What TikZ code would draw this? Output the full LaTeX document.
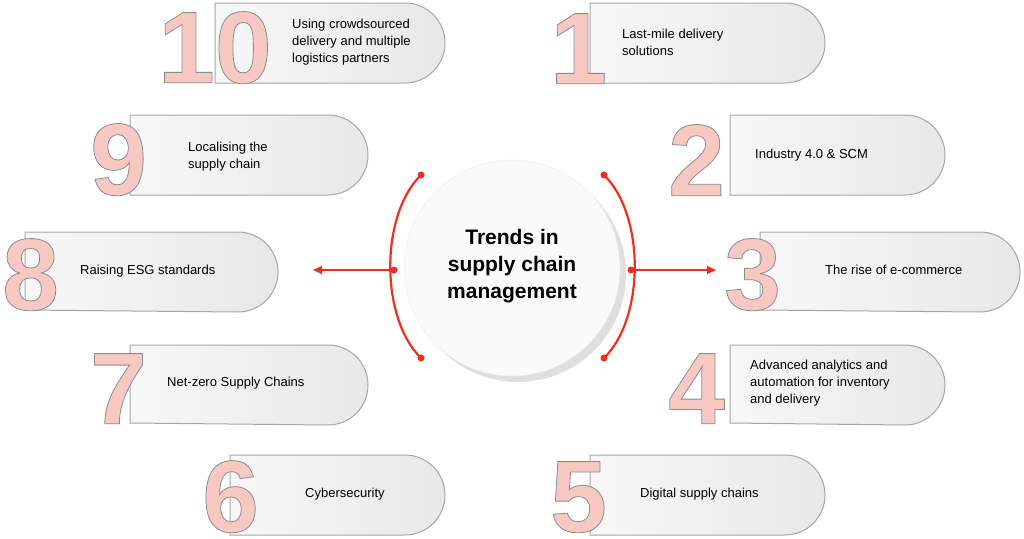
\documentclass[tikz,border=0pt]{standalone}
\usepackage{fontspec}
\setmainfont{Liberation Sans}
\usetikzlibrary{shadows,arrows.meta}
\definecolor{accent}{RGB}{240,45,30}
\definecolor{numpink}{RGB}{248,200,195}
\tikzset{
  pillstyle/.style={draw=gray!70,line width=1pt,left color=gray!6,right color=gray!18},
  lbl/.style={anchor=west,align=left,font=\fontsize{13}{17}\selectfont,inner sep=0},
  num/.style={anchor=south west,inner sep=0,font=\fontsize{102}{102}\selectfont\bfseries},
  dotstyle/.style={circle,fill=accent,inner sep=0,minimum size=7pt},
}
\newcommand\pill[4]{\path[pillstyle] (#1,-#2) -- (#3-40,-#2) arc[start angle=90,end angle=-90,radius=40] -- (#1,-#4) -- cycle;}
\newcommand\bignum[1]{\color{numpink}\special{pdf:literal direct 2 Tr 0.55 0.55 0.55 RG 0.8 w}#1\special{pdf:literal direct 0 Tr}}
\begin{document}
\begin{tikzpicture}[x=1pt,y=1pt]
\useasboundingbox (0,0) rectangle (1024,-538);
% pills
\pill{590}{3}{825}{83}
\pill{730}{115}{945}{195}
\pill{760}{232}{1020}{310}
\pill{730}{345}{945}{423}
\pill{590}{455}{825}{535}
\pill{215}{3}{445}{83}
\pill{130}{115}{368}{195}
\pill{25}{232}{278}{310}
\pill{130}{345}{368}{423}
\pill{230}{455}{445}{535}
% numbers
\node[num] (n1) at (550,-84) {\bignum{1}};
\node[num] (n2) at (668,-196) {\bignum{2}};
\node[num] (n3) at (724,-311) {\bignum{3}};
\node[num] (n4) at (668,-424) {\bignum{4}};
\node[num] (n5) at (550,-533) {\bignum{5}};
\node[num] (n10) at (158,-84) {\bignum{10}};
\node[num] (n9) at (90,-196) {\bignum{9}};
\node[num] (n8) at (2,-311) {\bignum{8}};
\node[num] (n7) at (90,-424) {\bignum{7}};
\node[num] (n6) at (202,-533) {\bignum{6}};
% labels
\node[lbl] (t1) at (622,-42) {Last-mile delivery\\solutions};
\node[lbl] (t2) at (755,-155) {Industry 4.0 \& SCM};
\node[lbl] (t3) at (825,-270) {The rise of e-commerce};
\node[lbl] (t4) at (750,-383) {Advanced analytics and\\automation for inventory\\and delivery};
\node[lbl] (t5) at (640,-494) {Digital supply chains};
\node[lbl] (t10) at (292,-42) {Using crowdsourced\\delivery and multiple\\logistics partners};
\node[lbl] (t9) at (188,-157) {Localising the\\supply chain};
\node[lbl] (t8) at (80,-271) {Raising ESG standards};
\node[lbl] (t7) at (167,-383) {Net-zero Supply Chains};
\node[lbl] (t6) at (305,-494) {Cybersecurity};
% centre
\node[circle,minimum size=216pt,fill=gray!4,draw=gray!15,
  drop shadow={shadow xshift=6pt,shadow yshift=-6pt,opacity=0.25}] (c) at (512,-268) {};
\node[align=center,font=\fontsize{21}{27}\selectfont\bfseries] (title) at (512,-266) {Trends in\\supply chain\\management};
% arcs
\coordinate (lt) at (421,-175); \coordinate (lm) at (394,-270); \coordinate (lb) at (421,-358);
\coordinate (rt) at (604,-175); \coordinate (rm) at (631,-270); \coordinate (rb) at (604,-358);
\coordinate (la) at (313,-270); \coordinate (ra) at (716,-270);
\draw[accent,line width=2.2pt] (lt) .. controls (380,-215) and (380,-318) .. (lb);
\draw[accent,line width=2.2pt] (rt) .. controls (645,-215) and (645,-318) .. (rb);
\draw[accent,line width=2pt,-{Triangle[length=9pt,width=8pt]}] (lm) -- (la);
\draw[accent,line width=2pt,-{Triangle[length=9pt,width=8pt]}] (rm) -- (ra);
\foreach \p in {lt,lm,lb,rt,rm,rb} \node[dotstyle] at (\p) {};
\end{tikzpicture}
\end{document}
